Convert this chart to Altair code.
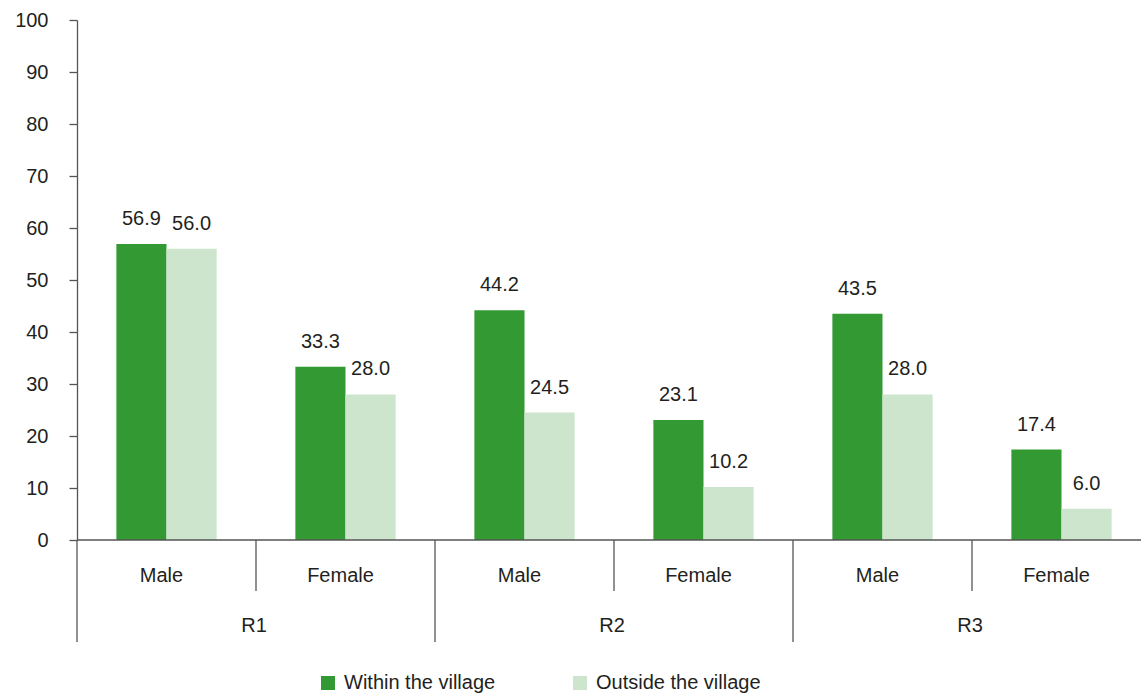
import altair as alt
import pandas as pd

# ---- data ----
regions = ["R1", "R2", "R3"]
sexes = ["Male", "Female"]
within = [56.9, 33.3, 44.2, 23.1, 43.5, 17.4]
outside = [56.0, 28.0, 24.5, 10.2, 28.0, 6.0]
series = ["Within the village", "Outside the village"]
colors = ["#339933", "#cce5cc"]
y_ticks = list(range(0, 101, 10))

FONT = "Liberation Sans"
TXT = "#231f20"
AX = "#555555"
BAR = 0.28          # bar width as fraction of a group
XMAX = 1064 / 179   # visible part of the 6-group axis

rows = []
for i in range(6):
    for s, vals in enumerate([within, outside]):
        x0 = i + 0.5 - BAR if s == 0 else i + 0.5
        rows.append({
            "series": series[s], "value": vals[i],
            "x0": x0, "x1": x0 + BAR, "xc": x0 + BAR / 2,
            "label": f"{vals[i]:.1f}",
        })
bars_df = pd.DataFrame(rows)

sub_df = pd.DataFrame({"xc": [i + 0.5 for i in range(6)],
                       "text": [sexes[i % 2] for i in range(6)]})
reg_df = pd.DataFrame({"xc": [2 * k + 1 for k in range(3)], "text": regions})
long_df = pd.DataFrame({"xb": [0, 2, 4, 6]})
short_df = pd.DataFrame({"xb": [1, 3, 5]})
base_df = pd.DataFrame({"xa": [0], "xb": [XMAX], "y": [0]})

xscale = alt.Scale(domain=[0, XMAX], nice=False, zero=False)
yscale = alt.Scale(domain=[0, 100], nice=False)

bars = alt.Chart(bars_df).mark_rect().encode(
    x=alt.X("x0:Q", scale=xscale, axis=None),
    x2="x1:Q",
    y=alt.Y("value:Q", scale=yscale,
            axis=alt.Axis(values=y_ticks, title=None, grid=False,
                          labelFont=FONT, labelFontSize=20, labelColor=TXT,
                          labelPadding=21, tickSize=8, tickColor=AX,
                          tickWidth=1.3, domainColor=AX, domainWidth=1.3)),
    y2=alt.datum(0),
    color=alt.Color("series:N",
                    scale=alt.Scale(domain=series, range=colors),
                    legend=alt.Legend(orient="none", legendX=241, legendY=653,
                                      direction="horizontal", title=None,
                                      symbolType="square", symbolSize=196,
                                      symbolStrokeWidth=0, symbolOpacity=1,
                                      labelFont=FONT, labelFontSize=20,
                                      labelColor=TXT, labelOffset=6,
                                      columnPadding=74, padding=0,
                                      labelLimit=300)),
)

baseline = alt.Chart(base_df).mark_rule(color=AX, strokeWidth=1.3).encode(
    x=alt.X("xa:Q", scale=xscale, axis=None),
    x2="xb:Q",
    y=alt.Y("y:Q", scale=yscale),
)

values = alt.Chart(bars_df).mark_text(
    font=FONT, fontSize=20, color=TXT, baseline="middle", dy=-25
).encode(
    x=alt.X("xc:Q", scale=xscale, axis=None),
    y=alt.Y("value:Q", scale=yscale),
    text="label:N",
)

long_rules = alt.Chart(long_df).mark_rule(color=AX, strokeWidth=1.3).encode(
    x=alt.X("xb:Q", scale=xscale, axis=None),
    y=alt.value(520), y2=alt.value(622),
)
short_rules = alt.Chart(short_df).mark_rule(color=AX, strokeWidth=1.3).encode(
    x=alt.X("xb:Q", scale=xscale, axis=None),
    y=alt.value(520), y2=alt.value(571),
)

sub_labels = alt.Chart(sub_df).mark_text(
    font=FONT, fontSize=20, color=TXT, baseline="middle", dx=-5
).encode(
    x=alt.X("xc:Q", scale=xscale, axis=None),
    y=alt.value(556),
    text="text:N",
)
reg_labels = alt.Chart(reg_df).mark_text(
    font=FONT, fontSize=20, color=TXT, baseline="middle", dx=-2
).encode(
    x=alt.X("xc:Q", scale=xscale, axis=None),
    y=alt.value(606),
    text="text:N",
)

chart = alt.layer(
    bars, baseline, values, long_rules, short_rules, sub_labels, reg_labels
).properties(
    width=1064, height=520,
    autosize=alt.AutoSizeParams(type="none"),
    padding={"left": 77, "top": 20, "right": 0, "bottom": 153},
).configure_view(stroke=None)

chart.save("out.html", embed_options={"renderer": "svg", "actions": False})
